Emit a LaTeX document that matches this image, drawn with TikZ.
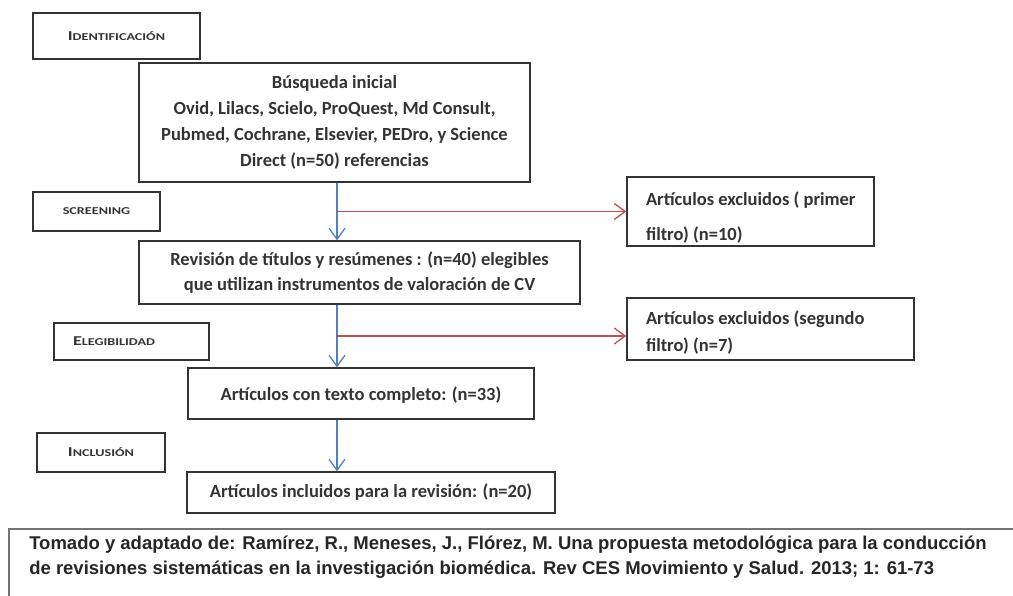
\documentclass[tikz,border=0pt]{standalone}
\usepackage{fontspec}
\setmainfont{Carlito}
\newfontfamily\arialfont{Liberation Sans}
\newfontfamily\etapafont[FakeStretch=1.35]{Carlito}
\usetikzlibrary{arrows.meta}

\definecolor{flechaazul}{RGB}{79,129,189}
\definecolor{flecharoja}{RGB}{192,80,77}

% etiqueta de etapa en versalitas hechas a mano
\newcommand{\etapa}[2]{{\etapafont\bfseries{\fontsize{13.5}{15}\selectfont #1}{\fontsize{10.5}{12}\selectfont #2}}}

\begin{document}
\begin{tikzpicture}[x=1pt,y=-1pt,>={Straight Barb[length=11pt,width=16pt]},semithick]
\tikzstyle{caja}=[draw=black!80,line width=1.3pt,inner sep=0pt,text=black!80,align=center,font=\bfseries\fontsize{18.5}{25}\selectfont]
\tikzstyle{etiqueta}=[caja,font=\bfseries]
\tikzstyle{excluido}=[caja,align=left]
\tikzstyle{azul}=[->,draw=flechaazul,line width=1.3pt]
\tikzstyle{roja}=[->,draw=flecharoja,line width=1.3pt]

\useasboundingbox (0,0) rectangle (1013,595);

% etapas
\node[etiqueta,minimum width=167,minimum height=46] (ident)  at (116.5,36)  {\etapa{I}{DENTIFICACIÓN}};
\node[etiqueta,minimum width=127,minimum height=39] (screen) at (96.5,211.5) {\etapa{}{SCREENING}};
\node[etiqueta,minimum width=155,minimum height=37,text width=117,align=left] (elegib) at (131.5,341.5) {\etapa{E}{LEGIBILIDAD}};
\node[etiqueta,minimum width=128,minimum height=39] (inclus) at (101,452.5) {\etapa{I}{NCLUSIÓN}};

% flujo principal
\node[caja,minimum width=391,minimum height=119,font=\bfseries\fontsize{18.5}{26}\selectfont] (busq) at (334.5,122.5) {Búsqueda inicial\\Ovid, Lilacs, Scielo, ProQuest, Md Consult,\\Pubmed, Cochrane, Elsevier, PEDro, y Science\\Direct (n=50) referencias};
\node[caja,minimum width=441,minimum height=63]  (revis) at (359.5,272.5) {Revisión de títulos y resúmenes : (n=40) elegibles\\que utilizan instrumentos de valoración de CV};
\node[caja,minimum width=346,minimum height=51,text depth=0pt] (texto) at (361,393.5) {Artículos con texto completo: (n=33)};
\node[caja,minimum width=368,minimum height=41]  (inclu) at (371,492.5)   {Artículos incluidos para la revisión: (n=20)};

% excluidos
\node[excluido,minimum width=247,minimum height=69] (excl1) at (750.5,211.5) {\rule{0pt}{25pt}\makebox[209pt][l]{Artículos excluidos ( primer}\\[10pt]filtro) (n=10)};
\node[excluido,minimum width=287,minimum height=62] (excl2) at (770.5,329)   {\rule{0pt}{20pt}\makebox[249pt][l]{Artículos excluidos (segundo}\\[2pt]filtro) (n=7)};

% fuente
\draw[draw=black!55,line width=1.8pt] (1030,529) -- (9,529) -- (9,620);
\node[anchor=north west,inner sep=0pt,align=left,text=black!85,font=\arialfont\bfseries\fontsize{18.5}{25}\selectfont] (fuente) at (29,536)
  {Tomado y adaptado de: Ramírez, R., Meneses, J., Flórez, M. Una propuesta metodológica para la conducción\\de revisiones sistemáticas en la investigación biomédica. Rev CES Movimiento y Salud. 2013; 1: 61-73};

\coordinate (eje) at (337,0);
\draw[azul] (busq.south -| eje) -- (revis.north -| eje);
\draw[azul] (revis.south -| eje) -- (texto.north -| eje);
\draw[azul] (texto.south -| eje) -- (inclu.north -| eje);
\draw[roja] (excl1.west -| eje) -- (excl1.west);
\draw[roja] ([yshift=-7pt]excl2.west -| eje) -- ([yshift=-7pt]excl2.west);
\end{tikzpicture}
\end{document}
